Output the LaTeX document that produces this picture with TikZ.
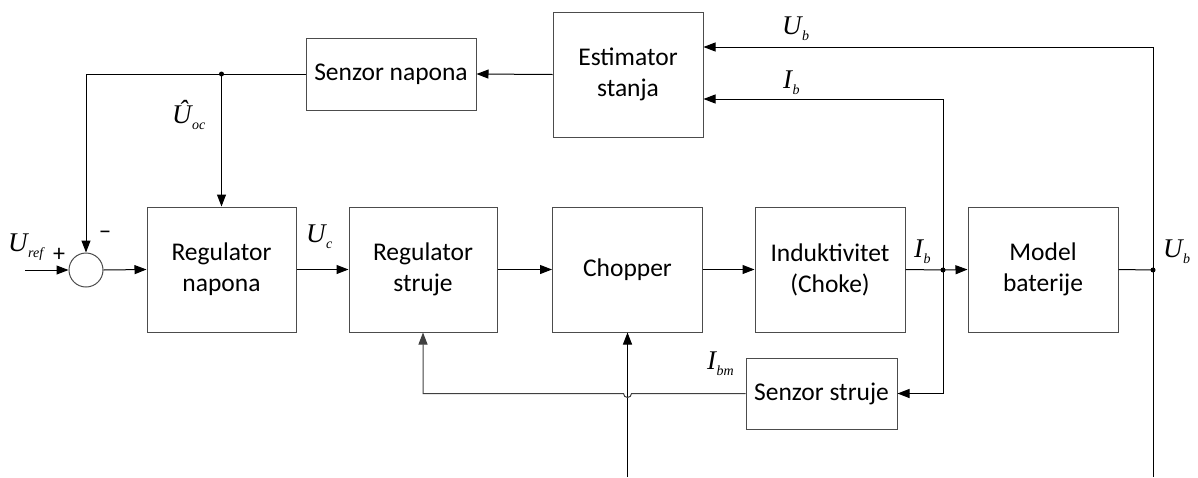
\documentclass[tikz,border=0pt]{standalone}
\usepackage{fontspec}
\setmainfont{Carlito}
\newfontfamily\tnr{Liberation Serif}
\usetikzlibrary{arrows.meta,calc}
\newcommand{\lab}[2]{{\tnr\itshape\fontsize{27}{27}\selectfont #1\kern0.5pt\raisebox{-0.5ex}{\fontsize{14}{14}\selectfont #2}}}
\begin{document}
\begin{tikzpicture}[x=1pt,y=-1pt,
  box/.style={draw=black!70,line width=1pt,rectangle,inner sep=0pt,align=center,font=\fontsize{25.5}{31}\selectfont},
  arr/.style={line width=1pt,-{Triangle[length=12pt,width=9pt]}},
  ln/.style={line width=1pt},
  dot/.style={circle,fill=black,inner sep=0pt,minimum size=5pt}]
\useasboundingbox (0,0) rectangle (1198,477);
% blocks
\node[box,minimum width=149,minimum height=125] (rn) at (221.5,269.5) {Regulator\\napona};
\node[box,minimum width=148,minimum height=125] (rs) at (423,269.5) {Regulator\\struje};
\node[box,minimum width=150,minimum height=125] (ch) at (627.5,269.5) {Chopper};
\node[box,minimum width=150,minimum height=125] (ind) at (830,269.5) {Induktivitet\\(Choke)};
\node[box,minimum width=150,minimum height=125] (mb) at (1043,269.5) {Model\\baterije};
\node[box,minimum width=150,minimum height=125] (est) at (628,74.5) {Estimator\\stanja};
\node[box,minimum width=170,minimum height=72] (sn) at (391,74) {Senzor napona};
\node[box,minimum width=151,minimum height=71] (ss) at (821.5,393.5) {Senzor struje};
\node[draw=black!70,line width=1pt,circle,minimum size=34pt,inner sep=0pt] (sum) at (86,270) {};
% coordinates
\coordinate (in) at (25,270);
\coordinate (fbl) at (86,74);
\node[dot] (d1) at (221.5,74) {};
\node[dot] (ibj) at (943,270) {};
\node[dot] (ubj) at (1153,270) {};
\coordinate (ibtop) at (943,99);
\coordinate (ubtop) at (1153,47);
\coordinate (ubbot) at (1153,477);
\coordinate (chbot) at (627.5,477);
% connectors
\draw[arr] (in) -- (sum.west);
\draw[arr] (sum.east) -- (rn.west);
\draw[arr] (rn.east) -- (rs.west);
\draw[arr] (rs.east) -- (ch.west);
\draw[arr] (ch.east) -- (ind.west);
\draw[ln] (ind.east) -- (ibj.center);
\draw[arr] (ibj.center) -- (mb.west);
\draw[ln] (mb.east) -- (ubj.center);
\draw[arr] (est.west) -- (sn.east);
\draw[arr] (sn.west) -- (fbl) -- (sum.north);
\draw[arr] (d1.center) -- (rn.north);
\draw[arr] (ubbot) -- (ubtop) -- (ubtop -| est.east);
\draw[arr] (ibj.center) -- (ibtop) -- (ibtop -| est.east);
\draw[arr] (ibj.center) -- (ibj |- ss.east) -- (ss.east);
\draw[arr] (chbot) -- (ch.south);
\draw[ln,black!75,-{Triangle[length=12pt,width=9pt]}] (ss.west) -- ($(ch.south |- ss.west)+(4,0)$) arc[start angle=0,end angle=180,radius=4] -- (rs.south |- ss.west) -- (rs.south);
% labels
\node[anchor=west,inner sep=0pt] (lref) at (8,247) {\lab{U}{ref}};
\node[inner sep=0pt,font=\fontsize{24}{24}\selectfont] (lplus) at (59,255) {+};
\node[inner sep=0pt,font=\fontsize{24}{24}\selectfont] (lminus) at (105,235) {−};
\node[anchor=west,inner sep=0pt] (loc) at (172,115) {\lab{Û}{oc}};
\node[anchor=west,inner sep=0pt] (luc) at (306,237) {\lab{U}{c}};
\node[anchor=west,inner sep=0pt] (lib) at (914,252) {\lab{I}{b}};
\node[anchor=west,inner sep=0pt] (lub) at (1163,252) {\lab{U}{b}};
\node[anchor=west,inner sep=0pt] (lubt) at (782,29) {\lab{U}{b}};
\node[anchor=west,inner sep=0pt] (libt) at (783,83) {\lab{I}{b}};
\node[anchor=west,inner sep=0pt] (libm) at (707,364) {\lab{I}{bm}};
\end{tikzpicture}
\end{document}
